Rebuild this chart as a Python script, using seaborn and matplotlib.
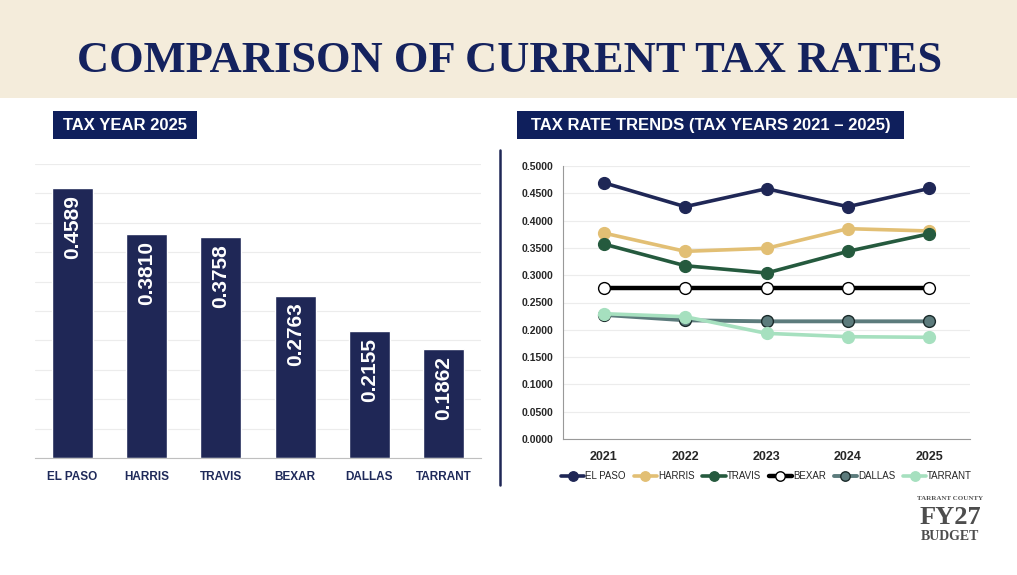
import numpy as np
import pandas as pd
import seaborn as sns
import matplotlib.pyplot as plt
from matplotlib.patches import Rectangle
from matplotlib.ticker import MultipleLocator, FormatStrFormatter

# 2025 tax rates
counties = ['EL PASO', 'HARRIS', 'TRAVIS', 'BEXAR', 'DALLAS', 'TARRANT']
rates_2025 = [0.4589, 0.3810, 0.3758, 0.2763, 0.2155, 0.1862]

# trend data, tax years 2021-2025
years = ['2021', '2022', '2023', '2024', '2025']
el_paso = [0.4694, 0.4255, 0.4584, 0.4255, 0.4589]
harris = [0.3773, 0.3437, 0.3492, 0.3852, 0.3810]
travis = [0.3571, 0.3174, 0.3040, 0.3437, 0.3758]
bexar = [0.2763, 0.2763, 0.2763, 0.2763, 0.2763]
dallas = [0.2273, 0.2174, 0.2155, 0.2155, 0.2155]
tarrant = [0.2295, 0.2240, 0.1935, 0.1874, 0.1862]

NAVY = '#1f2756'
W, H = 1017, 575

sns.set_style('white')
plt.rcParams['font.family'] = ['Liberation Sans', 'DejaVu Sans']

fig = plt.figure(figsize=(W / 100, H / 100), dpi=100)
fig.patch.set_facecolor('white')


def px_axes(x0, y0, x1, y1):
    # pixel box (top-left origin) -> figure axes
    return fig.add_axes([x0 / W, 1 - y1 / H, (x1 - x0) / W, (y1 - y0) / H])


# header band
fig.patches.append(Rectangle((0, 1 - 98 / H), 1, 98 / H, transform=fig.transFigure,
                             facecolor='#f4ecdb', edgecolor='none', zorder=0))
fig.text(510 / W, 1 - 61 / H, 'COMPARISON OF CURRENT TAX RATES', ha='center', va='center',
         fontsize=32, fontweight='bold', color='#14225e',
         family=['Liberation Serif', 'DejaVu Serif'])

# section tags
for x0, x1, label in [(53, 197, 'TAX YEAR 2025'),
                      (517, 904, 'TAX RATE TRENDS (TAX YEARS 2021 \u2013 2025)')]:
    fig.patches.append(Rectangle((x0 / W, 1 - 139 / H), (x1 - x0) / W, 28 / H,
                                 transform=fig.transFigure, facecolor='#0f1f5c',
                                 edgecolor='none'))
    fig.text((x0 + x1) / 2 / W, 1 - 125.5 / H, label, ha='center', va='center',
             color='white', fontsize=12, fontweight='bold')

# divider
fig.add_artist(plt.Line2D([500 / W, 500 / W], [1 - 150 / H, 1 - 485 / H],
                          color='#1f2756', lw=1.8, transform=fig.transFigure))

# ---- bar chart ----
ax1 = px_axes(35, 164, 481, 458)
bar_df = pd.DataFrame({'county': counties, 'rate': rates_2025})
sns.barplot(data=bar_df, x='county', y='rate', color=NAVY, width=0.55, ax=ax1,
            saturation=1)
ax1.set_ylim(0, 0.5)
ax1.set_xlim(-0.5, 5.5)
ax1.yaxis.set_major_locator(MultipleLocator(0.05))
ax1.grid(axis='y', color='#ececec', lw=0.8)
ax1.set_axisbelow(True)
ax1.set_yticklabels([])
ax1.tick_params(axis='y', length=0)
ax1.tick_params(axis='x', length=0, pad=9)
for lbl in ax1.get_xticklabels():
    lbl.set_fontsize(8.5)
    lbl.set_fontweight('bold')
    lbl.set_color('#1f2a5a')
ax1.set_xlabel('')
ax1.set_ylabel('')
for s in ['top', 'right', 'left']:
    ax1.spines[s].set_visible(False)
ax1.spines['bottom'].set_color('#bfbfbf')
for i, v in enumerate(rates_2025):
    ax1.text(i, v - 0.012, f'{v:.4f}', rotation=90, ha='center', va='top',
             color='white', fontsize=15, fontweight='bold')

# ---- line chart ----
ax2 = px_axes(563, 166, 970, 439)
series = [
    ('EL PASO', el_paso, '#1f2756', '#1f2756', '#1f2756', 2.6),
    ('HARRIS', harris, '#e2bf74', '#e2bf74', '#e2bf74', 2.6),
    ('TRAVIS', travis, '#255a3e', '#255a3e', '#255a3e', 2.6),
    ('BEXAR', bexar, '#000000', 'white', '#000000', 3.2),
    ('DALLAS', dallas, '#5c7b7c', '#5c7b7c', '#1a2a2a', 2.8),
    ('TARRANT', tarrant, '#a6e0bf', '#a6e0bf', '#a6e0bf', 2.6),
]
for name, vals, col, face, edge, lw in series:
    sns.lineplot(x=years, y=vals, ax=ax2, color=col, lw=lw, marker='o',
                 markersize=8.5, markerfacecolor=face, markeredgecolor=edge,
                 markeredgewidth=1.0, label=name, sort=False)
ax2.set_ylim(0, 0.5)
ax2.set_xlim(-0.5, 4.5)
ax2.yaxis.set_major_locator(MultipleLocator(0.05))
ax2.yaxis.set_major_formatter(FormatStrFormatter('%.4f'))
ax2.grid(axis='y', color='#ececec', lw=0.8)
ax2.set_axisbelow(True)
ax2.tick_params(axis='y', length=4, color='#999999', labelsize=7.5, pad=3)
ax2.tick_params(axis='x', length=0, labelsize=9, pad=9)
for lbl in ax2.get_yticklabels() + ax2.get_xticklabels():
    lbl.set_fontweight('bold')
for s in ['top', 'right']:
    ax2.spines[s].set_visible(False)
ax2.spines['left'].set_color('#999999')
ax2.spines['bottom'].set_color('#999999')
ax2.legend(loc='center', bbox_to_anchor=(0.5, (439 - 476) / 273), ncol=6,
           frameon=False, fontsize=7, handlelength=2.4, handletextpad=0.1,
           columnspacing=0.8, markerscale=0.8)

# logo
fig.text(950 / W, 1 - 499 / H, 'TARRANT COUNTY', ha='center', va='center',
         fontsize=5, fontweight='bold', color='#555555', family=['Liberation Serif'])
fig.text(950 / W, 1 - 518 / H, 'FY27', ha='center', va='center',
         fontsize=19, fontweight='bold', color='#4d4d4d', family=['Liberation Serif'])
fig.text(950 / W, 1 - 537 / H, 'BUDGET', ha='center', va='center',
         fontsize=10, fontweight='bold', color='#4d4d4d', family=['Liberation Serif'])

fig.savefig('out.png', dpi=100)
